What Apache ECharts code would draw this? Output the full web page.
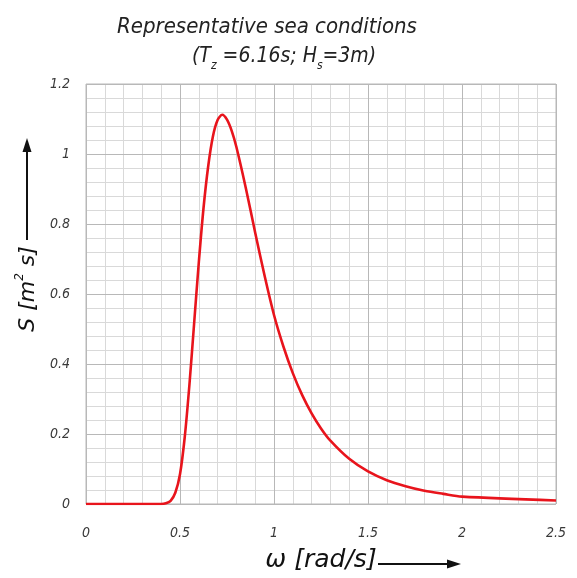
<!DOCTYPE html>
<html>
<head>
<meta charset="utf-8">
<script src="https://cdn.jsdelivr.net/npm/echarts@6/dist/echarts.min.js"></script>
<style>
  html, body { margin: 0; padding: 0; background: #fff; }
  #chart { width: 577px; height: 578px; }
</style>
</head>
<body>
<div id="chart"></div>
<script>
// wave frequency (rad/s) and spectral density S (m^2 s)
const omega = [0, 0.1, 0.2, 0.3, 0.4, 0.425, 0.45, 0.475, 0.5, 0.525, 0.55, 0.575, 0.6, 0.625, 0.65, 0.675,
  0.7, 0.725, 0.75, 0.775, 0.8, 0.85, 0.9, 0.95, 1.0, 1.05, 1.1, 1.15, 1.2, 1.25, 1.3, 1.4, 1.5, 1.6, 1.7,
  1.8, 1.9, 2.0, 2.5]
const spectrum = [0, 0, 0, 0, 0, 0.002, 0.009, 0.032, 0.085, 0.19, 0.34, 0.515, 0.69, 0.845, 0.965, 1.05,
  1.097, 1.112, 1.098, 1.066, 1.02, 0.903, 0.775, 0.652, 0.54, 0.45, 0.374, 0.311, 0.259, 0.216, 0.181, 0.129,
  0.093, 0.068, 0.051, 0.038, 0.029, 0.021, 0.01]

const xTicks = ['0', '0.5', '1', '1.5', '2', '2.5']
const yTicks = ['0', '0.2', '0.4', '0.6', '0.8', '1', '1.2']

const font = '"DejaVu Sans Condensed", "DejaVu Sans", sans-serif'
const wideFont = '"DejaVu Sans", sans-serif'
const labelStyle = { fontFamily: font, fontStyle: 'italic', fontWeight: 'normal', fontSize: 14, color: '#3a3a3a' }

const chart = echarts.init(document.getElementById('chart'))

const minorX = {
  type: 'value', min: 0, max: 2.5, interval: 0.1, z: 0, position: 'bottom',
  axisLine: { show: false }, axisTick: { show: false }, axisLabel: { show: false },
  splitLine: { lineStyle: { color: '#d9d9d9', width: 1 } }
}
const minorY = {
  type: 'value', min: 0, max: 1.2, interval: 0.04, z: 0, position: 'left',
  axisLine: { show: false }, axisTick: { show: false }, axisLabel: { show: false },
  splitLine: { lineStyle: { color: '#d9d9d9', width: 1 } }
}

const titleRich = {
  m: { fontFamily: font, fontStyle: 'italic', fontWeight: 'normal', fontSize: 21, color: '#222', lineHeight: 30, verticalAlign: 'middle' },
  s: { fontFamily: font, fontStyle: 'italic', fontWeight: 'normal', fontSize: 12, color: '#222', lineHeight: 30, verticalAlign: 'bottom' }
}

chart.setOption({
  animation: false,
  backgroundColor: '#fff',
  title: [{
    left: 112,
    top: 7,
    text: 'Representative sea conditions',
    textStyle: { fontFamily: font, fontStyle: 'italic', fontWeight: 'normal', fontSize: 22, color: '#222', lineHeight: 30 }
  }, {
    left: 187,
    top: 37,
    text: '{m|(T}{s|z}{m| =6.16s; H}{s|s}{m|=3m)}',
    textStyle: { rich: titleRich }
  }],
  grid: {
    left: 86, right: 21, top: 84, bottom: 74,
    outerBoundsMode: 'none',
    show: true, borderColor: '#b8b8b8', borderWidth: 1, z: 1
  },
  xAxis: [minorX, {
    type: 'value', min: 0, max: 2.5, interval: 0.5, z: 1, position: 'bottom', offset: 0,
    axisLine: { show: false }, axisTick: { show: false },
    axisLabel: Object.assign({ margin: 22, formatter: (v) => xTicks[Math.round(v / 0.5)] }, labelStyle),
    splitLine: { lineStyle: { color: '#b8b8b8', width: 1 } },
    name: 'ω [rad/s]',
    nameLocation: 'middle',
    nameGap: 44,
    nameTextStyle: { fontFamily: wideFont, fontStyle: 'italic', fontSize: 25, color: '#111' }
  }],
  yAxis: [minorY, {
    type: 'value', min: 0, max: 1.2, interval: 0.2, z: 1, position: 'left', offset: 0,
    axisLine: { show: false }, axisTick: { show: false },
    axisLabel: Object.assign({ margin: 16, formatter: (v) => yTicks[Math.round(v / 0.2)] }, labelStyle),
    splitLine: { lineStyle: { color: '#b8b8b8', width: 1 } },
    name: '{m|S [m}{p|2}{m| s]}',
    nameLocation: 'middle',
    nameRotate: 90,
    nameGap: 43,
    nameTextStyle: {
      padding: [0, 0, 0, 10],
      rich: {
        m: { fontFamily: wideFont, fontStyle: 'italic', fontSize: 22, color: '#111', lineHeight: 28, verticalAlign: 'middle' },
        p: { fontFamily: wideFont, fontStyle: 'italic', fontSize: 12, color: '#111', lineHeight: 28, verticalAlign: 'top' }
      }
    }
  }],
  graphic: [
    // arrow next to the y axis name
    { type: 'line', shape: { x1: 27, y1: 240, x2: 27, y2: 150 }, style: { stroke: '#111', lineWidth: 2 } },
    { type: 'polygon', shape: { points: [[27, 138], [22.5, 152], [31.5, 152]] }, style: { fill: '#111' } },
    // arrow next to the x axis name
    { type: 'line', shape: { x1: 378, y1: 564, x2: 450, y2: 564 }, style: { stroke: '#111', lineWidth: 2 } },
    { type: 'polygon', shape: { points: [[461, 564], [447, 559.5], [447, 568.5]] }, style: { fill: '#111' } }
  ],
  series: [{
    type: 'line',
    xAxisIndex: 0,
    yAxisIndex: 0,
    z: 5,
    smooth: 0.3,
    showSymbol: false,
    lineStyle: { color: '#e8141c', width: 2.6 },
    data: omega.map((w, i) => [w, spectrum[i]])
  }]
})
</script>
</body>
</html>
